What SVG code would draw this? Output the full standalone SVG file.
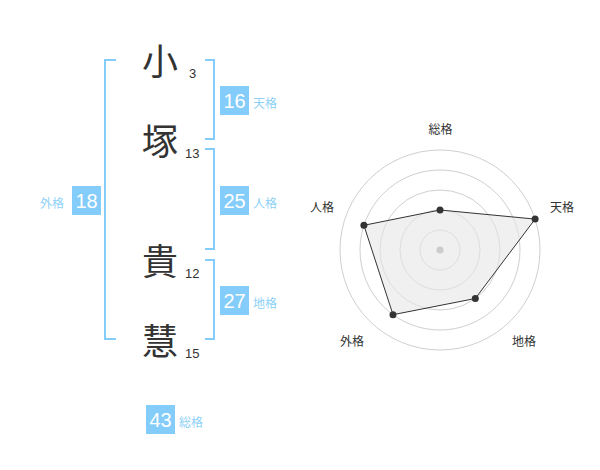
<svg xmlns="http://www.w3.org/2000/svg" width="600" height="470" viewBox="0 0 600 470">
<style>
.ch{font-family:"Noto Sans CJK JP","Noto Sans CJK SC",sans-serif;font-size:36px;fill:#333;text-anchor:middle}
.st{font-family:"Liberation Sans",Arial,sans-serif;font-size:13px;fill:#333}
.br{fill:none;stroke:#84ccf9;stroke-width:2}
.bx{fill:#84ccf9}
.bn{font-family:"Liberation Sans",Arial,sans-serif;font-size:20px;fill:#fff;text-anchor:middle}
.bl{font-family:"Noto Sans CJK JP","Noto Sans CJK SC",sans-serif;font-size:12px;fill:#8ed1f7}
.rl{font-family:"Noto Sans CJK JP","Noto Sans CJK SC",sans-serif;font-size:12px;fill:#333;text-anchor:middle}
.ring{fill:none;stroke:#cfcfcf;stroke-width:1}
.pt{fill:#333}
</style>
<g id="name">
<text class="ch" x="160" y="75">小</text>
<text class="st" x="189" y="78">3</text>
<text class="ch" x="160" y="155">塚</text>
<text class="st" x="185" y="158">13</text>
<text class="ch" x="160" y="275">貴</text>
<text class="st" x="185" y="278">12</text>
<text class="ch" x="160" y="355">慧</text>
<text class="st" x="185" y="358">15</text>
</g>
<g id="connectors">
<path class="br" d="M116,60 H105 V339 H116"/>
<path class="br" d="M205,60 H214 V139 H205"/>
<path class="br" d="M205,149 H214 V249 H205"/>
<path class="br" d="M205,260 H214 V339 H205"/>
</g>
<g id="tenkaku">
<rect class="bx" x="220" y="86" width="29" height="29"/>
<text class="bn" x="234.5" y="108">16</text>
<text class="bl" x="253" y="108">天格</text>
</g>
<g id="jinkaku">
<rect class="bx" x="220" y="186" width="29" height="29"/>
<text class="bn" x="234.5" y="208">25</text>
<text class="bl" x="253" y="208">人格</text>
</g>
<g id="chikaku">
<rect class="bx" x="220" y="286" width="29" height="29"/>
<text class="bn" x="234.5" y="308">27</text>
<text class="bl" x="253" y="308">地格</text>
</g>
<g id="gaikaku">
<rect class="bx" x="72" y="186" width="29" height="29"/>
<text class="bn" x="86.5" y="208">18</text>
<text class="bl" x="40" y="208">外格</text>
</g>
<g id="soukaku">
<rect class="bx" x="146" y="405" width="29" height="29"/>
<text class="bn" x="160.5" y="427">43</text>
<text class="bl" x="179" y="427">総格</text>
</g>
<g id="radar">
<circle class="ring" cx="440" cy="250" r="20"/>
<circle class="ring" cx="440" cy="250" r="40"/>
<circle class="ring" cx="440" cy="250" r="60"/>
<circle class="ring" cx="440" cy="250" r="80"/>
<circle class="ring" cx="440" cy="250" r="100"/>
<polygon points="440,210 535.1,219.1 475.3,298.5 393,314.7 363.9,225.3" fill="#e6e6e6" fill-opacity="0.6" stroke="#333" stroke-width="1"/>
<circle cx="440" cy="250" r="3.5" fill="#ccc"/>
<circle class="pt" cx="440" cy="210" r="3.5"/>
<circle class="pt" cx="535.1" cy="219.1" r="3.5"/>
<circle class="pt" cx="475.3" cy="298.5" r="3.5"/>
<circle class="pt" cx="393" cy="314.7" r="3.5"/>
<circle class="pt" cx="363.9" cy="225.3" r="3.5"/>
<text class="rl" x="440.5" y="134">総格</text>
<text class="rl" x="562" y="212">天格</text>
<text class="rl" x="524" y="346">地格</text>
<text class="rl" x="352" y="346">外格</text>
<text class="rl" x="322" y="212">人格</text>
</g>
</svg>
